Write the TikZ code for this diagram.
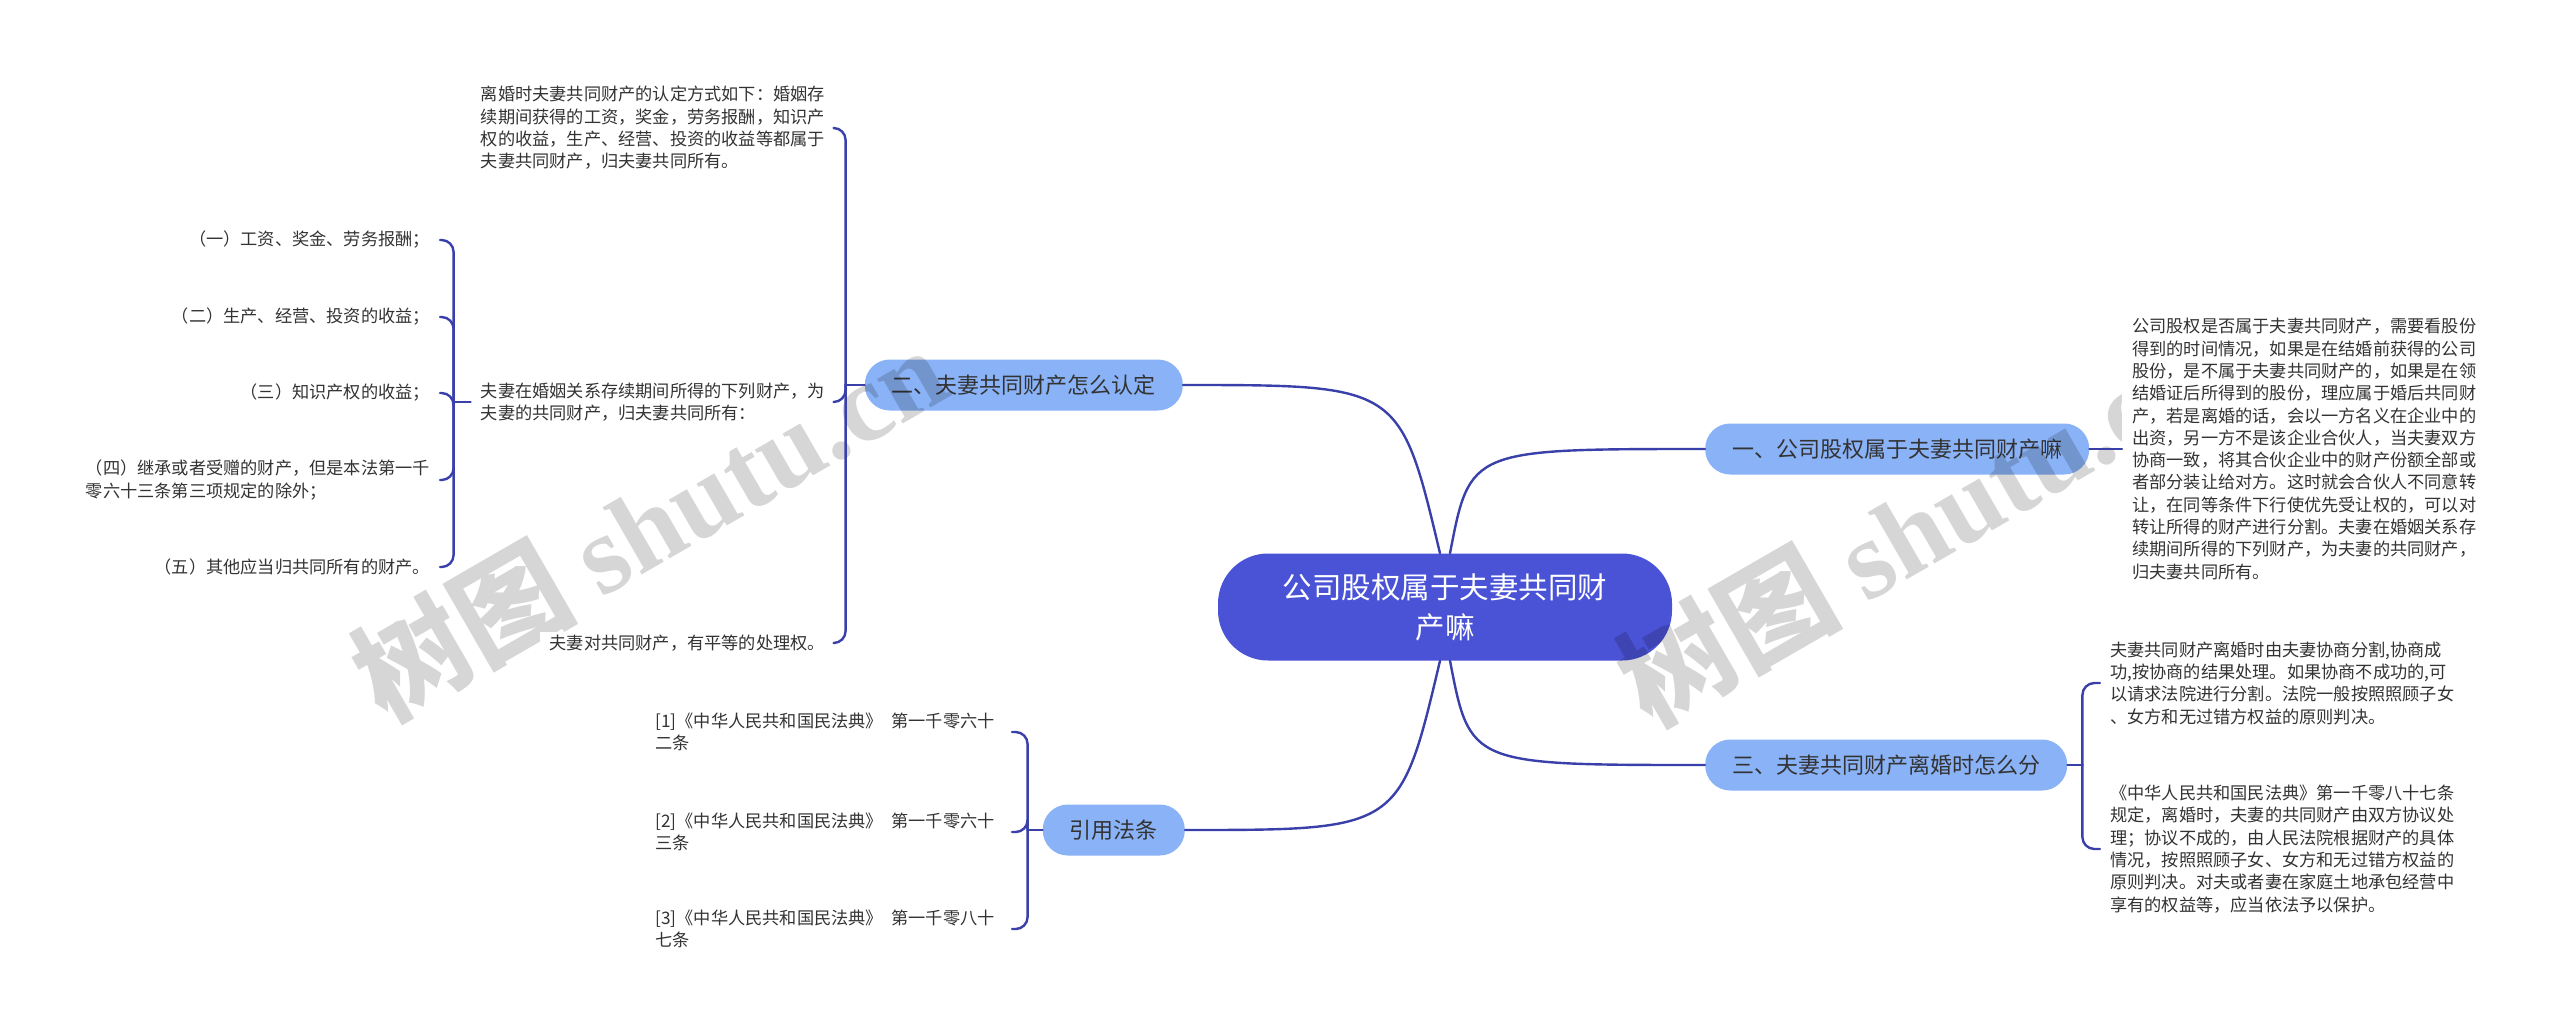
\documentclass[tikz,border=0pt]{standalone}
\usepackage{fontspec}
\setmainfont{Noto Sans CJK SC}
\newfontfamily\wmserif{Liberation Serif}
\usetikzlibrary{calc}

\definecolor{rootblue}{HTML}{4A53D6}
\definecolor{branchblue}{HTML}{8AB2F6}
\definecolor{linkblue}{HTML}{3A40AA}
\definecolor{inkgray}{HTML}{333333}

\begin{document}
\begin{tikzpicture}[x=1pt, y=-1pt, line join=round, line cap=round,
    root/.style={fill=rootblue, text=white, rounded corners=50pt, minimum width=454pt,
      minimum height=107pt, align=center, font=\fontsize{29.5}{40}\selectfont},
    branch/.style={fill=branchblue, text=inkgray, rounded corners=25pt, minimum height=51pt,
      inner xsep=27pt, font=\fontsize{22}{26}\selectfont},
    leaf/.style={fill=white, text=inkgray, align=left, inner xsep=10pt, inner ysep=3pt,
      font=\fontsize{17.2}{22.3}\selectfont},
    refleaf/.style={leaf, inner xsep=17pt, font=\fontsize{17.2}{21.3}\selectfont},
    link/.style={draw=linkblue, line width=2.4pt},
    brace/.style={link, rounded corners=12pt},
    wmark/.style={text=black, text opacity=0.16, rotate=30, font=\fontsize{112}{112}\bfseries}]
  \fill[white] (0,0) rectangle (2560,1034);
  \useasboundingbox (0,0) rectangle (2560,1034);

  % centre and main topics
  \node[root] (root) at (1445,607) {公司股权属于夫妻共同财\\产嘛};
  \node[branch, anchor=west] (own) at (1705,449) {一、公司股权属于夫妻共同财产嘛};
  \node[branch, anchor=east] (ident) at (1183,385) {二、夫妻共同财产怎么认定};
  \node[branch, anchor=west] (split) at (1705,765) {三、夫妻共同财产离婚时怎么分};
  \node[branch, anchor=east] (law) at (1185,830) {引用法条};

  % watermarks
  \node[wmark] at (649,522) {树图 {\wmserif shutu.cn}};
  \node[wmark] at (1914,527) {树图 {\wmserif shutu.cn}};

  % topic 二
  \node[leaf, anchor=east] (define) at (835,128) {离婚时夫妻共同财产的认定方式如下：婚姻存\\续期间获得的工资，奖金，劳务报酬，知识产\\权的收益，生产、经营、投资的收益等都属于\\夫妻共同财产，归夫妻共同所有。};
  \node[leaf, anchor=east] (during) at (835,402) {夫妻在婚姻关系存续期间所得的下列财产，为\\夫妻的共同财产，归夫妻共同所有：};
  \node[leaf, anchor=east] (equal) at (835,643) {夫妻对共同财产，有平等的处理权。};
  \node[leaf, anchor=east] (wage) at (440,240) {（一）工资、奖金、劳务报酬；};
  \node[leaf, anchor=east] (yield) at (440,317) {（二）生产、经营、投资的收益；};
  \node[leaf, anchor=east] (ip) at (440,393) {（三）知识产权的收益；};
  \node[leaf, anchor=east] (gift) at (440,480) {（四）继承或者受赠的财产，但是本法第一千\\零六十三条第三项规定的除外；};
  \node[leaf, anchor=east] (other) at (440,567) {（五）其他应当归共同所有的财产。};

  % topic 一
  \node[leaf, anchor=west] (stake) at (2122,449) {公司股权是否属于夫妻共同财产，需要看股份\\得到的时间情况，如果是在结婚前获得的公司\\股份，是不属于夫妻共同财产的，如果是在领\\结婚证后所得到的股份，理应属于婚后共同财\\产，若是离婚的话，会以一方名义在企业中的\\出资，另一方不是该企业合伙人，当夫妻双方\\协商一致，将其合伙企业中的财产份额全部或\\者部分装让给对方。这时就会合伙人不同意转\\让，在同等条件下行使优先受让权的，可以对\\转让所得的财产进行分割。夫妻在婚姻关系存\\续期间所得的下列财产，为夫妻的共同财产，\\归夫妻共同所有。};

  % topic 三
  \node[leaf, anchor=west] (agree) at (2100,683) {夫妻共同财产离婚时由夫妻协商分割,协商成\\功,按协商的结果处理。如果协商不成功的,可\\以请求法院进行分割。法院一般按照照顾子女\\、女方和无过错方权益的原则判决。};
  \node[leaf, anchor=west] (code) at (2100,849) {《中华人民共和国民法典》第一千零八十七条\\规定，离婚时，夫妻的共同财产由双方协议处\\理；协议不成的，由人民法院根据财产的具体\\情况，按照照顾子女、女方和无过错方权益的\\原则判决。对夫或者妻在家庭土地承包经营中\\享有的权益等，应当依法予以保护。};

  % cited articles
  \node[refleaf, anchor=east] (art1) at (1012,732) {[1]《中华人民共和国民法典》\enspace 第一千零六十\\二条};
  \node[refleaf, anchor=east] (art2) at (1012,832) {[2]《中华人民共和国民法典》\enspace 第一千零六十\\三条};
  \node[refleaf, anchor=east] (art3) at (1012,929) {[3]《中华人民共和国民法典》\enspace 第一千零八十\\七条};

  % connectors
  \coordinate (rootNR) at ([xshift=5pt]root.north);
  \coordinate (rootNL) at ([xshift=-5pt]root.north);
  \coordinate (rootSR) at ([xshift=5pt]root.south);
  \coordinate (rootSL) at ([xshift=-5pt]root.south);
  \draw[link] (rootNR) .. controls ($(rootNR |- own.west)+(20,0)$) .. (own.west);
  \draw[link] (rootNL) .. controls ($(rootNL |- ident.east)+(-40,0)$) .. (ident.east);
  \draw[link] (rootSR) .. controls ($(rootSR |- split.west)+(20,0)$) .. (split.west);
  \draw[link] (rootSL) .. controls ($(rootSL |- law.east)+(-40,0)$) .. (law.east);

  \draw[link] (own.east) -- (stake.west);

  \coordinate (jIdent) at ($(ident.west)+(-19,0)$);
  \draw[link] (ident.west) -- (jIdent);
  \foreach \n in {define,during,equal} \draw[brace] (jIdent) |- (\n.east);

  \coordinate (jDuring) at ($(during.west)+(-17,0)$);
  \draw[link] (during.west) -- (jDuring);
  \foreach \n in {wage,yield,ip,gift,other} \draw[brace] (jDuring) |- (\n.east);

  \coordinate (jSplit) at ($(split.east)+(15,0)$);
  \draw[link] (split.east) -- (jSplit);
  \foreach \n in {agree,code} \draw[brace] (jSplit) |- (\n.west);

  \coordinate (jLaw) at ($(law.west)+(-15,0)$);
  \draw[link] (law.west) -- (jLaw);
  \foreach \n in {art1,art2,art3} \draw[brace] (jLaw) |- (\n.east);
\end{tikzpicture}
\end{document}
